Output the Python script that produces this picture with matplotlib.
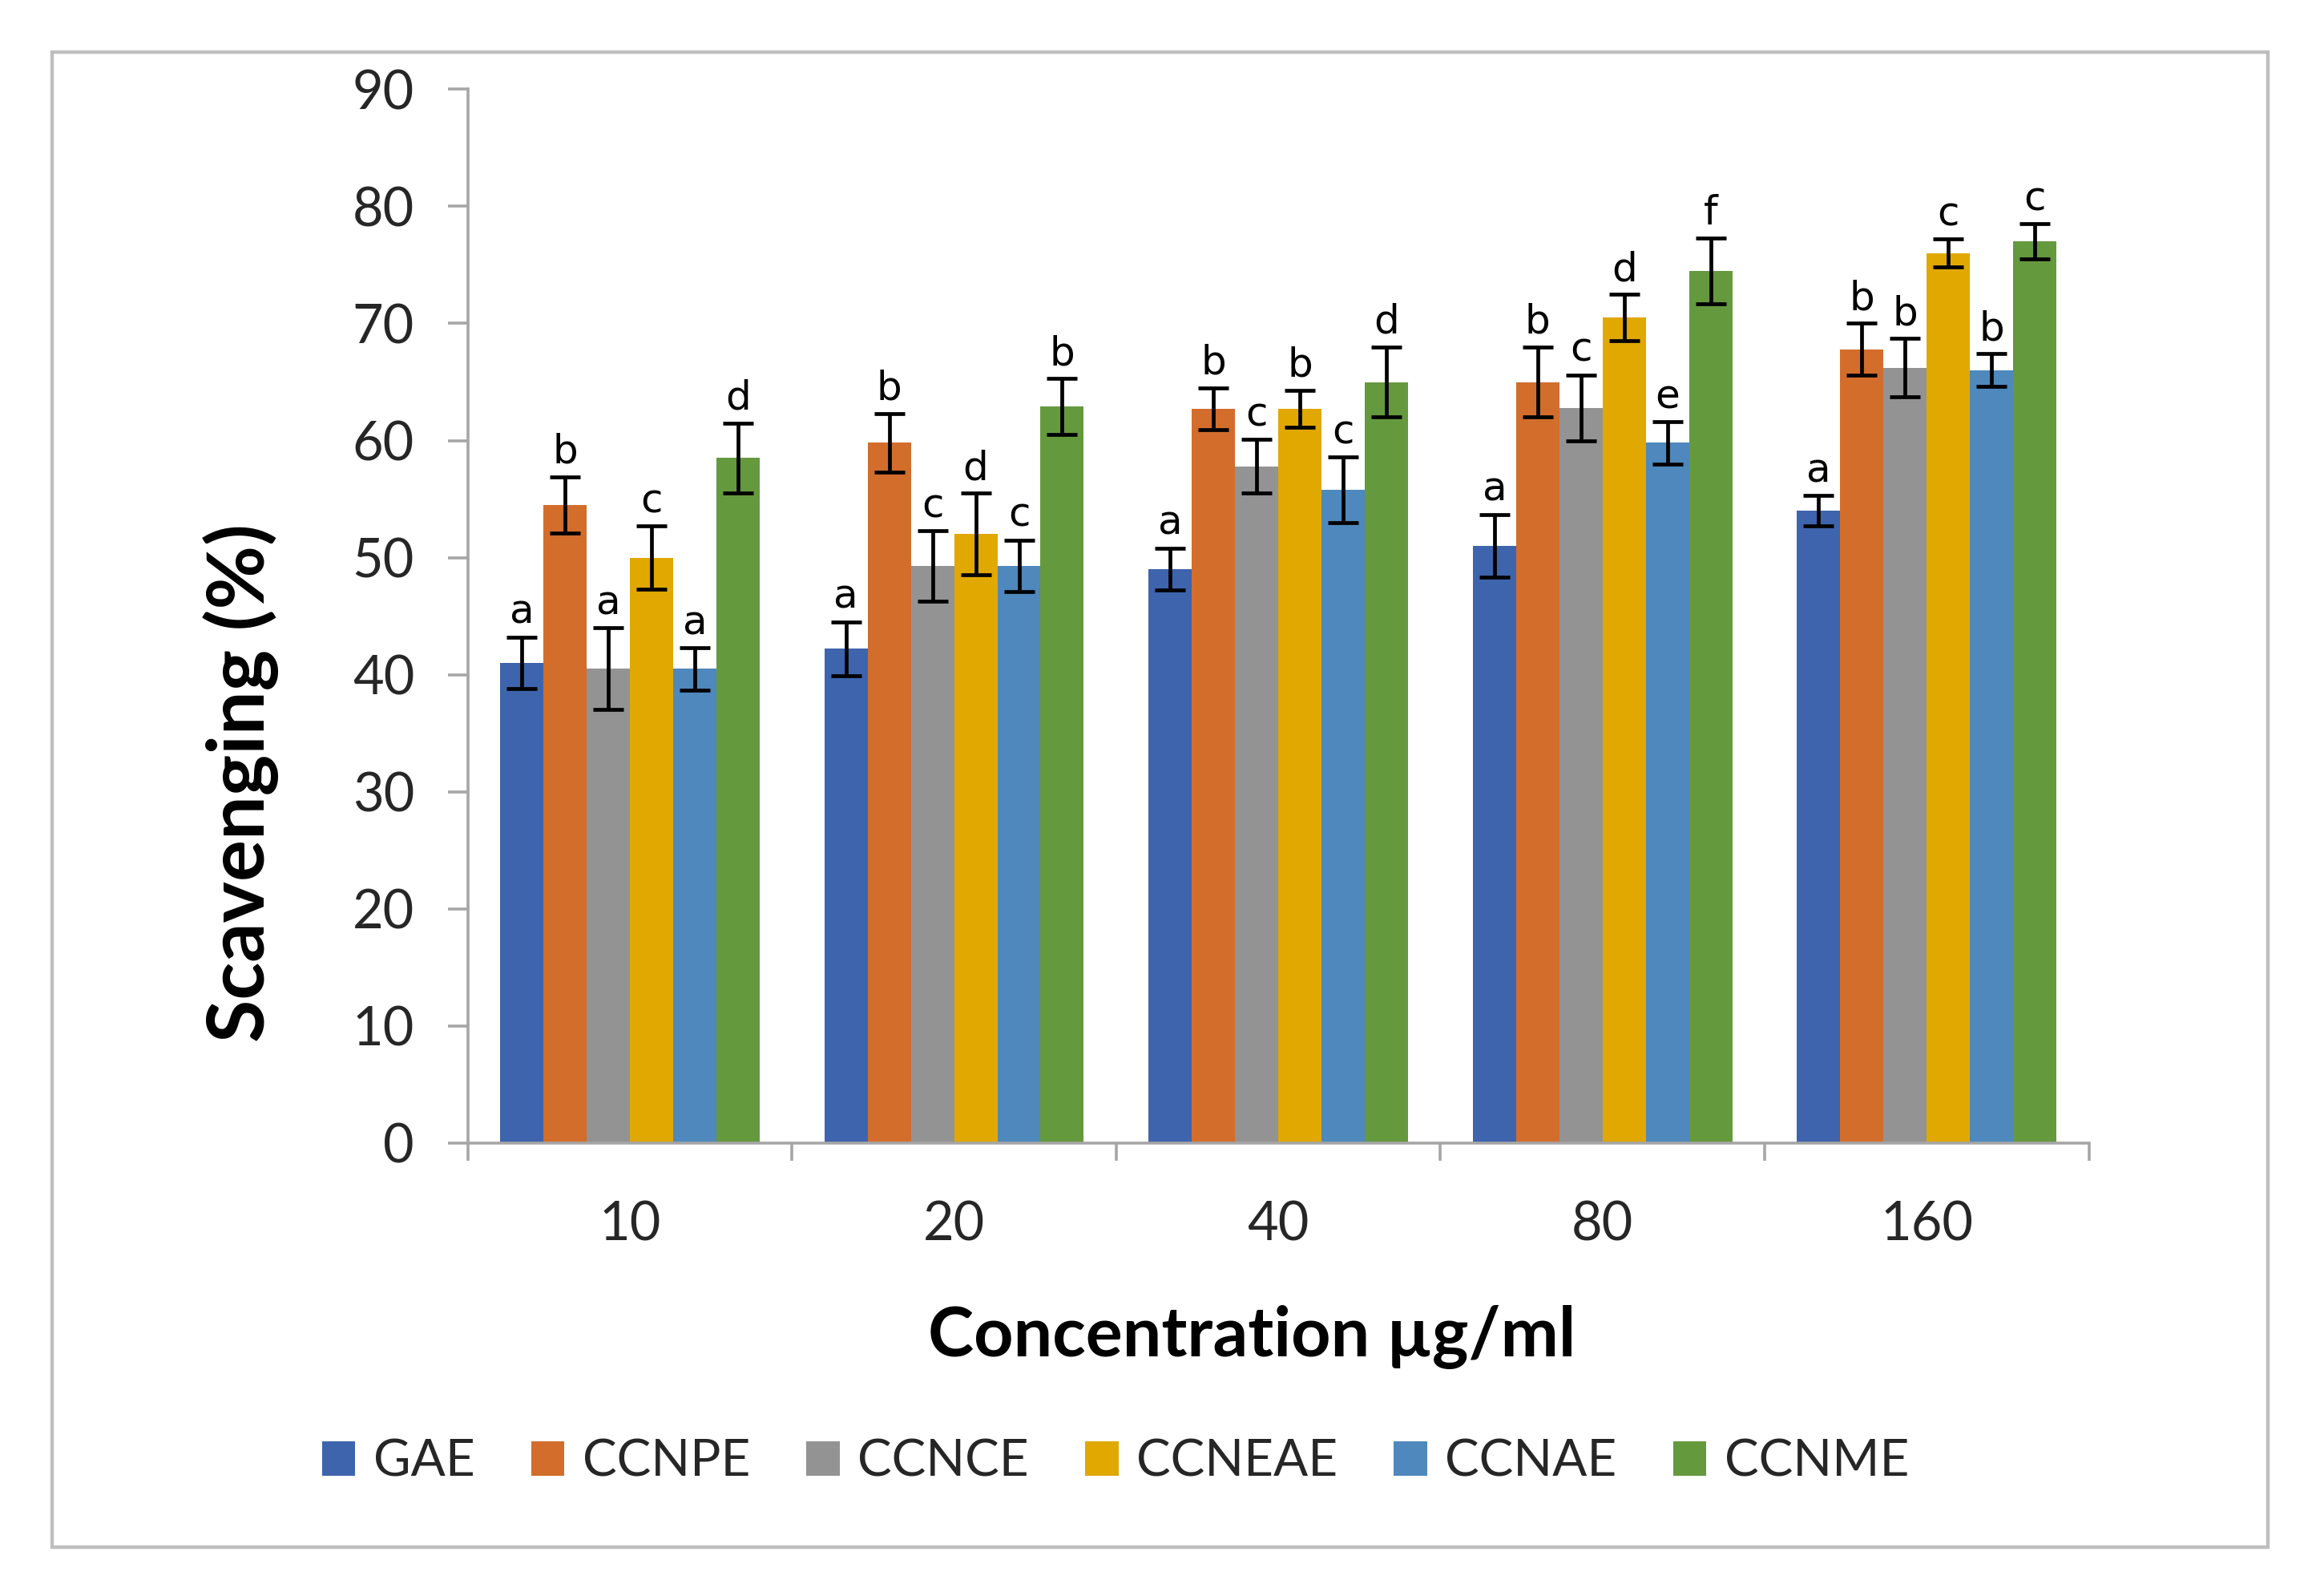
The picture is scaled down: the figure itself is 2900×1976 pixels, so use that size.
import matplotlib
matplotlib.use("Agg")
import matplotlib.pyplot as plt
import numpy as np
from matplotlib.patches import Rectangle

# ---------------- data ----------------
concentrations = ["10", "20", "40", "80", "160"]
series_names = ["GAE", "CCNPE", "CCNCE", "CCNEAE", "CCNAE", "CCNME"]

gae = [41.0, 42.2, 49.0, 51.0, 54.0]
ccnpe = [54.5, 59.8, 62.7, 65.0, 67.8]
ccnce = [40.5, 49.3, 57.8, 62.8, 66.2]
ccneae = [50.0, 52.0, 62.7, 70.5, 76.0]
ccnae = [40.5, 49.3, 55.8, 59.8, 66.0]
ccnme = [58.5, 62.9, 65.0, 74.5, 77.0]

gae_err = [2.2, 2.3, 1.8, 2.7, 1.3]
ccnpe_err = [2.4, 2.5, 1.8, 3.0, 2.2]
ccnce_err = [3.5, 3.0, 2.3, 2.8, 2.5]
ccneae_err = [2.7, 3.5, 1.6, 2.0, 1.2]
ccnae_err = [1.8, 2.2, 2.8, 1.8, 1.4]
ccnme_err = [3.0, 2.4, 3.0, 2.8, 1.5]

gae_letters = ["a", "a", "a", "a", "a"]
ccnpe_letters = ["b", "b", "b", "b", "b"]
ccnce_letters = ["a", "c", "c", "c", "b"]
ccneae_letters = ["c", "d", "b", "d", "c"]
ccnae_letters = ["a", "c", "c", "e", "b"]
ccnme_letters = ["d", "b", "d", "f", "c"]

yticks = [0, 10, 20, 30, 40, 50, 60, 70, 80, 90]

colors = ["#3E64AD", "#D26D2C", "#939393", "#E0A800", "#4E88BC", "#65993E"]

values = [gae, ccnpe, ccnce, ccneae, ccnae, ccnme]
errors = [gae_err, ccnpe_err, ccnce_err, ccneae_err, ccnae_err, ccnme_err]
letters = [gae_letters, ccnpe_letters, ccnce_letters, ccneae_letters,
           ccnae_letters, ccnme_letters]

# ---------------- figure ----------------
plt.rcParams['font.family'] = ['Lato', 'DejaVu Sans']
fig = plt.figure(figsize=(14.5, 9.88), dpi=200)
ax = fig.add_axes([0.2013, 0.2785, 0.6975, 0.6651])

# outer frame
fig.patches.append(Rectangle((0.0224, 0.0235), 0.9535, 0.9435,
                             transform=fig.transFigure, fill=False,
                             edgecolor="#BFBFBF", linewidth=1.6))

x = np.arange(len(concentrations))
n = len(series_names)
w = 0.8 / n
for i in range(n):
    pos = x + (i - (n - 1) / 2) * w
    ax.bar(pos, values[i], width=w, color=colors[i], label=series_names[i],
           zorder=2)
    ax.errorbar(pos, values[i], yerr=errors[i], fmt="none", ecolor="black",
                elinewidth=1.7, capsize=7, capthick=1.7, zorder=3)
    for j in range(len(x)):
        ax.annotate(letters[i][j], (pos[j], values[i][j] + errors[i][j]),
                    xytext=(0, 2.5), textcoords="offset points",
                    ha="center", va="bottom", fontsize=18,
                    family=["DejaVu Sans"], color="black", zorder=4)

ax.set_xlim(-0.5, len(concentrations) - 0.5)
ax.set_ylim(0, 90)
ax.set_yticks(yticks)
ax.set_yticklabels([str(t) for t in yticks])

# x ticks at category boundaries, labels at centers
ax.set_xticks(np.arange(-0.5, len(concentrations), 1.0))
ax.set_xticklabels([])
ax.set_xticks(x, minor=True)
ax.set_xticklabels(concentrations, minor=True)
ax.tick_params(axis="x", which="major", direction="out", length=8,
               width=1.3, color="#A6A6A6")
ax.tick_params(axis="x", which="minor", length=0, pad=26, labelsize=24,
               labelcolor="#262626")
ax.tick_params(axis="y", direction="out", length=9, width=1.3,
               color="#A6A6A6", pad=15, labelsize=24, labelcolor="#262626")

for s in ["top", "right"]:
    ax.spines[s].set_visible(False)
for s in ["left", "bottom"]:
    ax.spines[s].set_color("#A6A6A6")
    ax.spines[s].set_linewidth(1.3)

fig.text(0.1038, 0.506, "Scavenging (%)", rotation=90, fontsize=35,
         fontweight="bold", ha="center", va="center", color="black")
fig.text(0.5385, 0.156, "Concentration µg/ml", fontsize=31,
         fontweight="bold", ha="center", va="center", color="black")

handles, labs = ax.get_legend_handles_labels()
fig.legend(handles, labs, loc="center", bbox_to_anchor=(0.48, 0.077),
           ncol=6, frameon=False, fontsize=23, handlelength=0.65,
           handleheight=0.65, handletextpad=0.35, columnspacing=1.1,
           labelcolor="#262626")

fig.savefig("out.png", dpi=200)
